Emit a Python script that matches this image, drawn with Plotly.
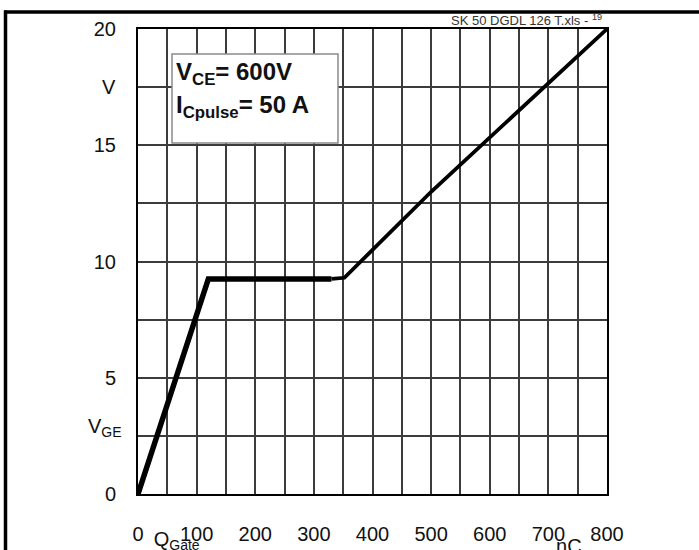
import plotly.graph_objects as go

# Data: gate charge curve (nC, V)
q_steep = [0, 120, 330]
v_steep = [0, 9.25, 9.25]
q_rise = [330, 352, 500, 800]
v_rise = [9.25, 9.3, 13.0, 20.0]

x_ticks = [0, 100, 200, 300, 400, 500, 600, 700, 800]
x_ticktext = ["0", "100", "200", "300", "400", "500", "600", "700", "800"]
y_ticks = [0, 5, 10, 15, 20]
y_ticktext = ["0", "5", "10", "15", "20"]
x_title_pos = [66]      # where the "Q_Gate" label sits on the charge axis
x_unit_pos = [735]      # where the "nC" unit label sits

W, H = 699, 550
L, R, T, B = 138, 92, 29, 56
pw, ph = W - L - R, H - T - B


def px(x):
    return (x - L) / pw


def py(y):
    return (H - B - y) / ph


font = "Liberation Sans, Arial, Helvetica, sans-serif"
grid = "#3c3c3c"

fig = go.Figure()
fig.add_trace(go.Scatter(x=q_steep, y=v_steep, mode="lines",
                         line=dict(color="black", width=5.5), showlegend=False, cliponaxis=False))
fig.add_trace(go.Scatter(x=q_rise, y=v_rise, mode="lines",
                         line=dict(color="black", width=3.8), showlegend=False, cliponaxis=False))
# invisible carriers so the overlay label axes get drawn
for xa, pos in (("x2", x_title_pos), ("x3", x_unit_pos)):
    fig.add_trace(go.Scatter(x=pos, y=[None], xaxis=xa, yaxis="y", mode="markers",
                             marker=dict(opacity=0), showlegend=False, hoverinfo="skip"))

label_axis = dict(range=[0, 800], overlaying="x", anchor="y", side="bottom",
                  showgrid=False, showline=False, zeroline=False, ticks="", automargin=False,
                  tickfont=dict(size=20, family=font, color="#111"))

fig.update_layout(
    width=W, height=H,
    margin=dict(l=L, r=R, t=T, b=B, autoexpand=False),
    paper_bgcolor="white", plot_bgcolor="white",
    font=dict(family=font, color="#111"),
    xaxis=dict(range=[0, 800], tickvals=x_ticks, ticktext=x_ticktext,
               showgrid=True, gridcolor=grid, gridwidth=1.5,
               minor=dict(dtick=50, tick0=0, showgrid=True, gridcolor=grid, gridwidth=1.5),
               showline=True, linecolor="black", linewidth=2, mirror=True,
               zeroline=False, ticks="", ticklabelstandoff=21, automargin=False,
               tickfont=dict(size=20, family=font, color="#111")),
    xaxis2=dict(label_axis, tickvals=x_title_pos, ticktext=["Q<sub>Gate</sub>"], ticklabelstandoff=31),
    xaxis3=dict(label_axis, tickvals=x_unit_pos, ticktext=["nC"], ticklabelstandoff=38),
    yaxis=dict(range=[0, 20], tickvals=y_ticks, ticktext=y_ticktext,
               showgrid=True, gridcolor=grid, gridwidth=1.5,
               minor=dict(dtick=2.5, tick0=0, showgrid=True, gridcolor=grid, gridwidth=1.5),
               showline=True, linecolor="black", linewidth=2, mirror=True,
               zeroline=False, ticks="", ticklabelstandoff=16, automargin=False,
               tickfont=dict(size=20, family=font, color="#111")),
)

shapes = [
    # info box
    dict(type="rect", xref="paper", yref="paper",
         x0=px(172), x1=px(338), y0=py(143), y1=py(54),
         fillcolor="white", line=dict(color="#8a8a8a", width=1.5), layer="above"),
    # outer frame (top and left)
    dict(type="line", xref="paper", yref="paper",
         x0=px(4), x1=px(700), y0=py(12), y1=py(12),
         line=dict(color="black", width=3.5)),
    dict(type="line", xref="paper", yref="paper",
         x0=px(5.5), x1=px(5.5), y0=py(10.5), y1=py(552),
         line=dict(color="black", width=3.5)),
]
fig.update_layout(shapes=shapes)

ann = [
    dict(x=px(174), y=py(73), text="<b>V<sub>CE</sub>= 600V</b>", xanchor="left", yanchor="middle",
         font=dict(size=24, family=font, color="#111")),
    dict(x=px(174), y=py(106), text="<b>I<sub>Cpulse</sub>= 50 A</b>", xanchor="left", yanchor="middle",
         font=dict(size=24, family=font, color="#111")),
    dict(x=px(109), y=py(87), text="V", xanchor="center", yanchor="middle",
         font=dict(size=20, family=font, color="#111")),
    dict(x=px(124), y=py(427), text="V<sub>GE</sub>", xanchor="right", yanchor="middle",
         font=dict(size=20, family=font, color="#111")),
    dict(x=px(604), y=py(20), text="SK 50 DGDL 126 T.xls - <sup>19</sup>", xanchor="right", yanchor="middle",
         font=dict(size=13, family=font, color="#333")),
]
for a in ann:
    a.update(xref="paper", yref="paper", showarrow=False)
fig.update_layout(annotations=ann)

fig.write_html("out.html")
